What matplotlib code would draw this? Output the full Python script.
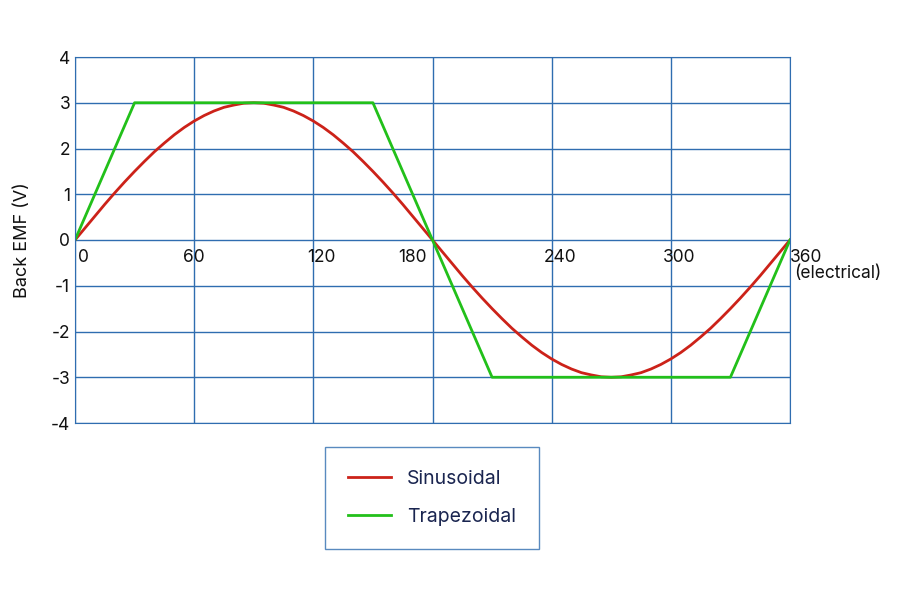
import matplotlib
matplotlib.use("Agg")
import matplotlib.pyplot as plt

plt.rcParams['font.family'] = ['Inter', 'DejaVu Sans']

sine_x = list(range(0, 365, 5))
_q = [0, 0.26, 0.52, 0.78, 1.03, 1.27, 1.5, 1.72, 1.93, 2.12, 2.30, 2.46,
      2.60, 2.72, 2.82, 2.90, 2.95, 2.99, 3.0]
_half = _q + _q[-2::-1]
sine_y = _half + [-v for v in _half[1:]]
trap_x = [0, 30, 150, 180, 210, 330, 360]
trap_y = [0, 3, 3, 0, -3, -3, 0]
x_ticks = [0, 60, 120, 180, 240, 300, 360]
y_ticks = [-4, -3, -2, -1, 0, 1, 2, 3, 4]

fig = plt.figure(figsize=(9, 6), dpi=100)
ax = fig.add_axes([75/900, 1-423/600, 715/900, 366/600])
grid_c = '#2f6db0'
ax.set_xlim(0, 360)
ax.set_ylim(-4, 4)
ax.set_xticks(x_ticks)
ax.set_yticks(y_ticks)
ax.grid(True, color=grid_c, lw=1)
for s in ax.spines.values():
    s.set_color(grid_c)
ax.tick_params(length=0, labelbottom=False, labelsize=12.5, labelcolor='#111111')
ax.set_yticklabels([str(v) for v in y_ticks])
ax.set_ylabel('Back EMF (V)', fontsize=13, color='#111111', labelpad=14)

l1, = ax.plot(sine_x, sine_y, color='#cc2219', lw=2, label='Sinusoidal')
l2, = ax.plot(trap_x, trap_y, color='#22c01a', lw=2, label='Trapezoidal')

label_pos = [1.5, 60, 124, 170, 244, 304, 368]
for lx, t in zip(label_pos, x_ticks):
    ax.text(lx, -0.2, str(t), ha='left' if t == 0 else 'center', va='top', fontsize=12.5, color='#111111')
ax.text(362, -0.55, '(electrical)', ha='left', va='top', fontsize=12.5, color='#111111', clip_on=False)

leg = fig.legend(handles=[l1, l2], loc='center', bbox_to_anchor=(432/900, 1-498/600),
                 fontsize=14, frameon=True, fancybox=False, borderpad=1.2,
                 labelspacing=1.0, handlelength=2.2, borderaxespad=0)
leg.get_frame().set_edgecolor(grid_c)
for t in leg.get_texts():
    t.set_color('#1a2550')
fig.canvas.draw()
bb = leg.get_window_extent()
w = 238
leg.set_bbox_to_anchor((313/900, 1-550/600, w/900, 104/600))
leg._loc = 10
leg.set_mode('expand') if False else None
leg.get_frame().set_width(w)
fig.savefig('out.png', dpi=100)
